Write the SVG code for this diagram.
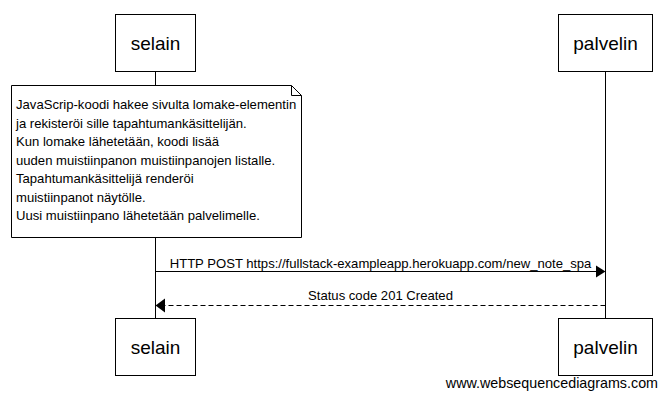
<svg xmlns="http://www.w3.org/2000/svg" width="667" height="400" viewBox="0 0 667 400">
<style>
.box{fill:#fff;stroke:#000;stroke-width:1}
.lbl{font-family:"Liberation Sans",Arial,sans-serif;font-size:19px;fill:#000;text-anchor:middle}
.txt{font-family:"Liberation Sans",Arial,sans-serif;font-size:13.1px;fill:#000}
.life{stroke:#000;stroke-width:1}
</style>
<rect width="667" height="400" fill="#fff"/>
<g id="lifelines">
<line class="life" x1="155.5" y1="71.5" x2="155.5" y2="318.5"/>
<line class="life" x1="605.5" y1="71.5" x2="605.5" y2="318.5"/>
</g>
<g id="selain-top"><rect class="box" x="115.5" y="14.5" width="80" height="57"/><text class="lbl" x="155.5" y="50">selain</text></g>
<g id="palvelin-top"><rect class="box" x="558.5" y="14.5" width="94" height="57"/><text class="lbl" x="605.5" y="50">palvelin</text></g>
<g id="note">
<path class="box" d="M11.5 85.5 H291.5 L301.5 95.5 V237.5 H11.5 Z"/>
<path d="M291.5 85.5 V95.5 H301.5" fill="none" stroke="#000"/>
<text class="txt" x="16" y="109">JavaScrip-koodi hakee sivulta lomake-elementin</text>
<text class="txt" x="16" y="127.5">ja rekisteröi sille tapahtumankäsittelijän.</text>
<text class="txt" x="16" y="146">Kun lomake lähetetään, koodi lisää</text>
<text class="txt" x="16" y="164.5">uuden muistiinpanon muistiinpanojen listalle.</text>
<text class="txt" x="16" y="183">Tapahtumankäsittelijä renderöi</text>
<text class="txt" x="16" y="201.5">muistiinpanot näytölle.</text>
<text class="txt" x="16" y="220">Uusi muistiinpano lähetetään palvelimelle.</text>
</g>
<g id="connectors">
<line x1="155.5" y1="271.5" x2="597" y2="271.5" stroke="#000"/>
<polygon points="596,265.5 605.5,271.5 596,277.5" fill="#000"/>
<text class="txt" x="380.5" y="268" text-anchor="middle">HTTP POST https://fullstack-exampleapp.herokuapp.com/new_note_spa</text>
<line x1="605.5" y1="305.5" x2="164" y2="305.5" stroke="#000" stroke-dasharray="5,3"/>
<polygon points="165,298.5 155.5,305.5 165,312.5" fill="#000"/>
<text class="txt" x="380.5" y="300" text-anchor="middle">Status code 201 Created</text>
</g>
<g id="selain-bottom"><rect class="box" x="115.5" y="318.5" width="80" height="57"/><text class="lbl" x="155.5" y="354">selain</text></g>
<g id="palvelin-bottom"><rect class="box" x="558.5" y="318.5" width="94" height="57"/><text class="lbl" x="605.5" y="354">palvelin</text></g>
<text class="txt" x="658" y="388" text-anchor="end" style="font-size:14.3px">www.websequencediagrams.com</text>
</svg>
